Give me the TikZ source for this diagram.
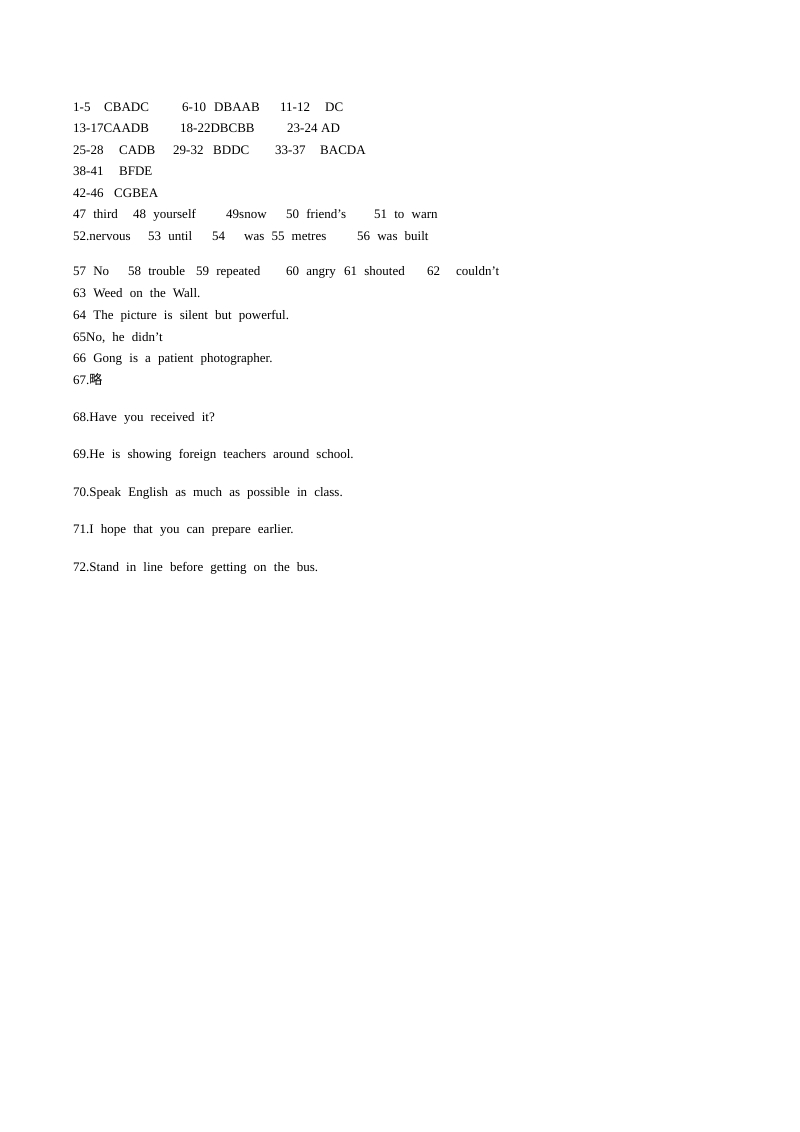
\documentclass[tikz,border=0pt]{standalone}
\usepackage{fontspec}
\setmainfont{Liberation Serif}
\newfontfamily\cjk{Noto Sans CJK SC}
\begin{document}
\begin{tikzpicture}[x=1pt,y=-1pt,
  t/.style={anchor=base west,inner sep=0pt,font=\fontsize{13}{15}\selectfont,
    execute at begin node={\spaceskip=0.55em plus 0.1em\relax}}]
\useasboundingbox[fill=white] (0,0) rectangle (800,1132);
% line 1
\node[t] (a1) at (73,111) {1-5};
\node[t] (a2) at (104,111) {CBADC};
\node[t] (a3) at (182,111) {6-10};
\node[t] (a4) at (214,111) {DBAAB};
\node[t] (a5) at (280,111) {11-12};
\node[t] (a6) at (325,111) {DC};
% line 2
\node[t] (b1) at (73,132) {13-17CAADB};
\node[t] (b2) at (180,132) {18-22DBCBB};
\node[t] (b3) at (287,132) {23-24};
\node[t] (b4) at (321,132) {AD};
% line 3
\node[t] (c1) at (73,154) {25-28};
\node[t] (c2) at (119,154) {CADB};
\node[t] (c3) at (173,154) {29-32};
\node[t] (c4) at (213,154) {BDDC};
\node[t] (c5) at (275,154) {33-37};
\node[t] (c6) at (320,154) {BACDA};
% lines 4-5
\node[t] (d1) at (73,175) {38-41};
\node[t] (d2) at (119,175) {BFDE};
\node[t] (e1) at (73,197) {42-46};
\node[t] (e2) at (114,197) {CGBEA};
% line 6
\node[t] (f1) at (73,218) {47 third};
\node[t] (f2) at (133,218) {48 yourself};
\node[t] (f3) at (226,218) {49snow};
\node[t] (f4) at (286,218) {50 friend’s};
\node[t] (f5) at (374,218) {51 to warn};
% line 7
\node[t] (g1) at (73,240) {52.nervous};
\node[t] (g2) at (148,240) {53 until};
\node[t] (g3) at (212,240) {54};
\node[t] (g4) at (244,240) {was 55 metres};
\node[t] (g5) at (357,240) {56 was built};
% line 8
\node[t] (h1) at (73,275) {57 No};
\node[t] (h2) at (128,275) {58 trouble};
\node[t] (h3) at (196,275) {59 repeated};
\node[t] (h4) at (286,275) {60 angry};
\node[t] (h5) at (344,275) {61 shouted};
\node[t] (h6) at (427,275) {62};
\node[t] (h7) at (456,275) {couldn’t};
% rest
\node[t] (i1) at (73,297) {63 Weed on the Wall.};
\node[t] (i2) at (73,319) {64 The picture is silent but powerful.};
\node[t] (i3) at (73,341) {65No, he didn’t};
\node[t] (i4) at (73,362) {66 Gong is a patient photographer.};
\node[t] (i5) at (73,384) {67.{\cjk 略}};
\node[t] (j1) at (73,421) {68.Have you received it?};
\node[t] (j2) at (73,458) {69.He is showing foreign teachers around school.};
\node[t] (j3) at (73,496) {70.Speak English as much as possible in class.};
\node[t] (j4) at (73,533) {71.I hope that you can prepare earlier.};
\node[t] (j5) at (73,571) {72.Stand in line before getting on the bus.};
\end{tikzpicture}
\end{document}
